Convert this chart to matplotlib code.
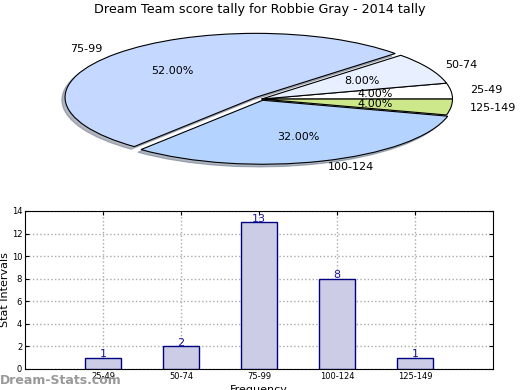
import matplotlib
matplotlib.use("Agg")
import matplotlib.pyplot as plt

categories = ["25-49", "50-74", "75-99", "100-124", "125-149"]
counts = [1, 2, 13, 8, 1]
pie_colors = ["#ffffff", "#e8f0ff", "#c5d8ff", "#b4d4ff", "#cce88a"]
explode = [0, 0, 0.04, 0.02, 0]
yticks = [0, 2, 4, 6, 8, 10, 12, 14]

fig = plt.figure(figsize=(5.2, 3.9), dpi=100)
fig.text(0.5, 0.975, "Dream Team score tally for Robbie Gray - 2014 tally",
         ha="center", va="center", fontsize=9.2)

ax1 = fig.add_axes([0.044, 0.541, 0.918, 0.41])
wedges, texts, autotexts = ax1.pie(counts, labels=categories, colors=pie_colors,
                                   explode=explode, autopct="%1.2f%%",
                                   shadow=dict(ox=-0.012, oy=-0.03, shade=0.5),
                                   startangle=0,
                                   wedgeprops=dict(edgecolor="black", linewidth=0.8),
                                   textprops=dict(fontsize=8))
ax1.set_aspect("auto")
ax1.set_xlim(-1.25, 1.25)
ax1.set_ylim(-1.25, 1.25)

ax2 = fig.add_axes([0.048, 0.054, 0.9, 0.405])
x = list(range(1, len(categories) + 1))
bars = ax2.bar(x, counts, width=0.46, color="#ccccE6", edgecolor="#000080",
               linewidth=1.0, zorder=3)
for xi, c in zip(x, counts):
    ax2.text(xi, c - 0.15, str(c), ha="center", va="bottom", color="#1a1aa0",
             fontsize=8, zorder=4)
ax2.set_xlim(0, 6)
ax2.set_ylim(0, 14)
ax2.set_xticks(x)
ax2.set_xticklabels(categories, fontsize=6)
ax2.set_yticks(yticks)
ax2.set_yticklabels([str(v) for v in yticks], fontsize=6)
ax2.tick_params(direction="in", top=True, right=True, length=3, pad=2)
ax2.grid(True, linestyle=":", color="#aaaaaa", linewidth=1.0, zorder=0)
ax2.set_ylabel("Stat Intervals", fontsize=8, labelpad=1)
ax2.set_xlabel("Frequency", fontsize=8, labelpad=3)

fig.text(0.0, 0.025, "Dream-Stats.com", ha="left", va="center", fontsize=9,
         color="#999999", fontweight="semibold")

fig.savefig("out.png", dpi=100)
